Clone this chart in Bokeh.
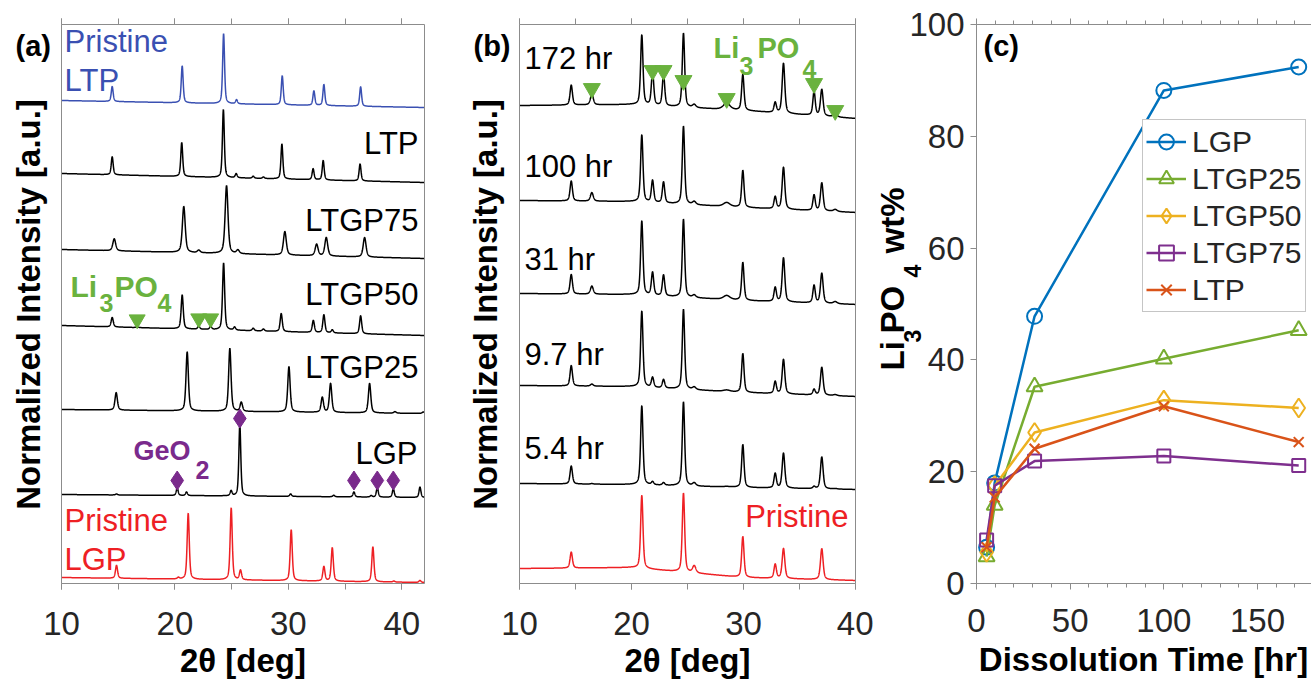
import numpy as np
from bokeh.plotting import figure
from bokeh.models import (Range1d, LinearAxis, SingleIntervalTicker, FixedTicker,
                          Label, Legend, LegendItem)
from bokeh.layouts import row
from bokeh.embed import file_html
from bokeh.resources import INLINE

FONT = "Liberation Sans"
AX = "#8c8c8c"
TXT = "#262626"
GREEN = "#6ab23e"
PURPLE = "#7a2a8c"
RED = "#ee2024"
BLUE = "#3a50b2"

# ---------------- panel (a): XRD of pristine and dissolved powders ----------------
a_names = ["Pristine LTP", "LTP", "LTGP75", "LTGP50", "LTGP25", "LGP", "Pristine LGP"]
a_colors = [BLUE, "black", "black", "black", "black", "black", RED]
a_base_left = [483, 410, 334, 258, 174, 89, 6]      # a.u. at 2theta = 10
a_base_right = [476, 401, 325, 248, 170, 86, 1]     # a.u. at 2theta = 42
a_fwhm = [0.2, 0.2, 0.3, 0.22, 0.25, 0.2, 0.22]
a_pos = [
    [14.47, 20.64, 24.29, 25.43, 29.46, 32.25, 33.13, 36.37],
    [14.47, 20.6, 24.27, 25.4, 26.9, 27.8, 29.43, 32.18, 33.07, 36.32],
    [14.65, 20.78, 22.1, 24.55, 25.55, 29.69, 32.49, 33.34, 36.72],
    [14.47, 16.67, 20.64, 22.1, 23.15, 24.29, 25.26, 26.9, 27.8, 29.37, 32.2, 33.13, 33.87, 36.37],
    [14.82, 21.08, 24.84, 25.85, 30.05, 32.99, 33.72, 37.16, 39.4, 41.9],
    [14.85, 20.2, 21.02, 24.95, 25.72, 30.2, 34.0, 35.78, 37.3, 37.84, 39.25, 41.6],
    [14.85, 20.3, 21.17, 24.96, 25.78, 30.25, 33.13, 33.87, 37.45, 39.3, 41.6],
]
a_hgt = [
    [15, 37, 70, 4, 29, 14.5, 21, 19.5],
    [18, 34, 68, 4, 2, 1.5, 35, 11, 19.5, 17],
    [12, 46, 2.5, 68, 3.5, 23.5, 11.5, 18.5, 19.5],
    [9.5, 1, 34, 3, 3, 67, 3, 2.5, 2, 18, 12, 18, 3, 18],
    [17.5, 59, 63, 9, 45.5, 15, 29, 29.5, 1.5, 1.5],
    [1, 7.5, 3.5, 5, 72, 2.5, 1.5, 5, 1.5, 9.5, 8.5, 10.5],
    [13, 1.5, 66, 72, 9.5, 51, 14.5, 33.5, 35, 1, 2],
]
a_li3po4_x = [16.67, 22.1, 23.15]
a_li3po4_y = [264, 265, 265]
a_geo2_x = [20.2, 25.72, 35.78, 37.84, 39.25]
a_geo2_y = [103, 165, 103, 103, 103]

# ---------------- panel (b): LGP after dissolution ----------------
b_names = ["172 hr", "100 hr", "31 hr", "9.7 hr", "5.4 hr", "Pristine"]
b_colors = ["black", "black", "black", "black", "black", RED]
b_pos = [14.62, 16.46, 20.92, 21.88, 22.86, 24.64, 25.6, 28.5, 29.94, 32.83, 33.57, 36.3, 36.99, 38.19]
b_fwhm = [0.25, 0.3, 0.25, 0.25, 0.25, 0.25, 0.35, 0.7, 0.25, 0.25, 0.28, 0.25, 0.28, 0.4]
b_hgt = [
    [20, 11, 70, 34, 32, 74, 3, 6.5, 36, 10, 50, 24, 26.5, 3],
    [20, 8.5, 67, 22, 21, 78, 3, 4, 37, 12, 42, 15.5, 28, 2],
    [19.5, 8, 74, 23, 21, 78, 2.5, 4, 38, 14, 44, 17.5, 30, 2],
    [20.5, 2, 76, 10, 8.5, 80, 2.5, 1.5, 39, 12, 34.5, 5.5, 28, 1],
    [18, 0.5, 79, 3, 2.5, 84, 3, 0.5, 43, 14.5, 35, 2, 32, 0.5],
    [16, 0, 73, 0, 0, 79, 7, 0, 41, 14, 30, 0, 31, 0],
]
b_base_x = [10, 20, 30, 40]
b_base = [
    [478, 479, 473, 465],
    [383, 382, 376, 371],
    [290, 289, 283, 279],
    [198, 197, 191, 187],
    [100, 99, 96, 94],
    [15, 16, 6, 3],
]
b_li3po4_x = [16.46, 21.88, 22.86, 24.64, 28.5, 36.3, 38.19]
b_li3po4_y = [495, 513, 513, 503, 485, 500, 473]

# ---------------- panel (c): Li3PO4 wt% vs dissolution time ----------------
c_time = [5.4, 9.7, 31, 100, 172]
c_series = ["LGP", "LTGP25", "LTGP50", "LTGP75", "LTP"]
c_LGP = [6.5, 18, 47.8, 88.2, 92.4]
c_LTGP25 = [4.8, 14, 35.2, 40.2, 45.3]
c_LTGP50 = [5.6, 17.5, 27, 32.8, 31.4]
c_LTGP75 = [7.8, 17.5, 21.9, 22.8, 21.1]
c_LTP = [6.5, 15.4, 24.1, 31.7, 25.3]
c_colors = ["#0072bd", "#77ac30", "#edb120", "#7e2f8e", "#d95319"]
c_markers = ["circle", "triangle", "diamond", "square", "x"]
c_sizes = [15, 16, 19, 13, 14]

H = 680  # canvas height


def pattern(theta, pos, hgt, fwhm, eta=0.5):
    y = np.zeros_like(theta)
    fw = np.broadcast_to(np.asarray(fwhm, dtype=float), (len(pos),))
    for p, h, w in zip(pos, hgt, fw):
        d = (theta - p) / (w / 2.0)
        y += h * (eta / (1.0 + d * d) + (1.0 - eta) * np.exp(-np.log(2.0) * d * d))
    return y


def px_map(p0, p1, d0, d1):
    """pixel -> data along one axis, given two pixel/data anchor pairs (the axes box)."""
    return lambda p: d0 + (p - p0) * (d1 - d0) / (p1 - p0)


def label(p, fx, fy, px, py, s, size, color="black", bold=False, align="left",
          baseline="middle", angle=0.0):
    p.add_layout(Label(x=fx(px), y=fy(py), text=s, text_font=FONT,
                       text_font_size=f"{size}px", text_color=color,
                       text_font_style="bold" if bold else "normal",
                       text_align=align, text_baseline=baseline, angle=angle))


def style_axis(ax, labels=True, minor_out=6, standoff=22, ticks=True):
    ax.axis_line_color = AX
    ax.major_tick_line_color = AX if ticks else None
    ax.minor_tick_line_color = AX if ticks else None
    ax.major_tick_in = 0
    ax.major_tick_out = 6 if ticks else 0
    ax.minor_tick_in = 0
    ax.minor_tick_out = minor_out if ticks else 0
    ax.major_label_text_font = FONT
    ax.major_label_text_font_size = "33px"
    ax.major_label_text_color = TXT if labels else None
    ax.major_label_standoff = standoff


def base_fig(left, width, fx, fy):
    p = figure(width=width, height=H, x_range=Range1d(fx(left), fx(left + width)),
               y_range=Range1d(fy(H), fy(0)), output_backend="svg", toolbar_location=None,
               min_border=0, min_border_left=0, min_border_right=0,
               min_border_top=0, min_border_bottom=0)
    p.grid.visible = False
    p.outline_line_color = None
    p.background_fill_color = "white"
    p.border_fill_color = "white"
    return p


def xrd_fig(left, width, box, xmax):
    fx = px_map(box[0], box[1], 10, xmax)
    fy = px_map(583, 24, 0, 559)
    p = base_fig(left, width, fx, fy)
    bx = p.xaxis[0]
    bx.ticker = SingleIntervalTicker(interval=10, num_minor_ticks=2)
    bx.fixed_location = 0
    bx.bounds = (10, xmax)
    style_axis(bx)
    top = LinearAxis(ticker=SingleIntervalTicker(interval=10, num_minor_ticks=2),
                     fixed_location=559, bounds=(10, xmax))
    style_axis(top, labels=False)
    p.add_layout(top, "above")
    ly = p.yaxis[0]
    ly.ticker = FixedTicker(ticks=[])
    ly.fixed_location = 10
    ly.bounds = (0, 559)
    style_axis(ly, labels=False, ticks=False)
    ry = LinearAxis(ticker=FixedTicker(ticks=[]), fixed_location=xmax, bounds=(0, 559))
    style_axis(ry, labels=False, ticks=False)
    p.add_layout(ry, "right")
    return p, fx, fy


# ---------- (a)
pa, fxa, fya = xrd_fig(0, 465, (61, 424), 42)
ta = np.linspace(10, 42, 2561)
for i in range(len(a_names)):
    base = np.interp(ta, [10, 42], [a_base_left[i], a_base_right[i]])
    yy = base + pattern(ta, a_pos[i], a_hgt[i], a_fwhm[i])
    pa.line(ta, yy, line_color=a_colors[i], line_width=1.5)
pa.scatter(a_li3po4_x, a_li3po4_y, marker="inverted_triangle", size=16,
           fill_color=GREEN, line_color=GREEN)
pa.scatter(a_geo2_x, a_geo2_y, marker="diamond", size=19,
           fill_color=PURPLE, line_color=PURPLE)
A = dict(p=pa, fx=fxa, fy=fya)
label(**A, px=15, py=45, s="(a)", size=29, bold=True)
label(**A, px=64, py=41, s="Pristine", size=31, color=BLUE)
label(**A, px=64, py=79.5, s="LTP", size=31, color=BLUE)
label(**A, px=418, py=142.5, s="LTP", size=31, align="right")
label(**A, px=418, py=219.5, s="LTGP75", size=31, align="right")
label(**A, px=418, py=293.5, s="LTGP50", size=31, align="right")
label(**A, px=418, py=366.5, s="LTGP25", size=31, align="right")
label(**A, px=417, py=452.5, s="LGP", size=31, align="right")
label(**A, px=64, py=520, s="Pristine", size=31, color=RED)
label(**A, px=64, py=558.5, s="LGP", size=31, color=RED)
label(**A, px=70, py=286, s="Li", size=30, color=GREEN, bold=True)
label(**A, px=99, py=302.5, s="3", size=25, color=GREEN, bold=True)
label(**A, px=114, py=286, s="PO", size=30, color=GREEN, bold=True)
label(**A, px=157, py=302.5, s="4", size=25, color=GREEN, bold=True)
label(**A, px=133, py=450, s="GeO", size=27, color=PURPLE, bold=True)
label(**A, px=195, py=469.5, s="2", size=25, color=PURPLE, bold=True)
label(**A, px=242.5, py=660, s="2θ [deg]", size=33, bold=True, align="center")
label(**A, px=28, py=304, s="Normalized Intensity [a.u.]", size=33, bold=True,
      align="center", angle=np.pi / 2)

# ---------- (b)
pb, fxb, fyb = xrd_fig(465, 408, (519, 855), 40)
tb = np.linspace(10, 40, 2401)
for i in range(len(b_names)):
    base = np.interp(tb, b_base_x, b_base[i])
    yy = base + pattern(tb, b_pos, b_hgt[i], b_fwhm)
    pb.line(tb, yy, line_color=b_colors[i], line_width=1.5)
pb.scatter(b_li3po4_x, b_li3po4_y, marker="inverted_triangle", size=17,
           fill_color=GREEN, line_color=GREEN)
B = dict(p=pb, fx=fxb, fy=fyb)
label(**B, px=473, py=45, s="(b)", size=29, bold=True)
for name, yb in zip(b_names[:5], [57.5, 166, 259, 354, 447.5]):
    label(**B, px=524, py=yb, s=name, size=31)
label(**B, px=848, py=516, s="Pristine", size=31, color=RED, align="right")
label(**B, px=713, py=47.5, s="Li", size=29, color=GREEN, bold=True)
label(**B, px=739, py=65.5, s="3", size=25, color=GREEN, bold=True)
label(**B, px=757, py=47.5, s="PO", size=29, color=GREEN, bold=True)
label(**B, px=802, py=68.5, s="4", size=25, color=GREEN, bold=True)
label(**B, px=687, py=660, s="2θ [deg]", size=33, bold=True, align="center")
label(**B, px=485, py=304, s="Normalized Intensity [a.u.]", size=33, bold=True,
      align="center", angle=np.pi / 2)

# ---------- (c)
fxc = px_map(976, 1257, 0, 150)
fyc = px_map(583, 24, 0, 100)
pc = base_fig(873, 438, fxc, fyc)
xc_end = fxc(1311)
cx = pc.xaxis[0]
cx.ticker = SingleIntervalTicker(interval=50, num_minor_ticks=5)
cx.fixed_location = 0
cx.bounds = (0, xc_end)
style_axis(cx, minor_out=4, standoff=19)
cy = pc.yaxis[0]
cy.ticker = SingleIntervalTicker(interval=20, num_minor_ticks=2)
cy.fixed_location = 0
cy.bounds = (0, 100)
style_axis(cy, standoff=6)
cy.minor_tick_line_color = None
topc = LinearAxis(ticker=SingleIntervalTicker(interval=50, num_minor_ticks=5),
                  fixed_location=100, bounds=(0, xc_end))
style_axis(topc, labels=False, minor_out=4)
pc.add_layout(topc, "above")

items = []
for name, ys, col, mk, sz in zip(c_series, [c_LGP, c_LTGP25, c_LTGP50, c_LTGP75, c_LTP],
                                 c_colors, c_markers, c_sizes):
    ln = pc.line(c_time, ys, line_color=col, line_width=2.5)
    sc = pc.scatter(c_time, ys, marker=mk, size=sz, line_color=col, fill_color=None,
                    line_width=2)
    items.append(LegendItem(label=name, renderers=[ln, sc]))
leg = Legend(items=items, location=(1142 - 873, H - 307 - 5), label_text_font=FONT,
             label_text_font_size="30px", label_text_color=TXT, glyph_width=40,
             glyph_height=37, label_height=37, label_standoff=6, spacing=0, padding=3,
             margin=0, border_line_color=AX, border_line_width=1,
             background_fill_color="white", background_fill_alpha=1.0)
pc.add_layout(leg)
C = dict(p=pc, fx=fxc, fy=fyc)
label(**C, px=983, py=45.5, s="(c)", size=29, bold=True)
label(**C, px=1143, py=659, s="Dissolution Time [hr]", size=33, bold=True, align="center")
ang = np.pi / 2
label(**C, px=892, py=370, s="Li", size=33, bold=True, angle=ang)
label(**C, px=911.5, py=342, s="3", size=23, bold=True, angle=ang)
label(**C, px=892, py=333, s="PO", size=33, bold=True, angle=ang)
label(**C, px=911.5, py=277, s="4", size=23, bold=True, angle=ang)
label(**C, px=892, py=253, s="wt%", size=33, bold=True, angle=ang)

layout = row(pa, pb, pc)
open("out.html", "w").write(file_html(layout, INLINE))
